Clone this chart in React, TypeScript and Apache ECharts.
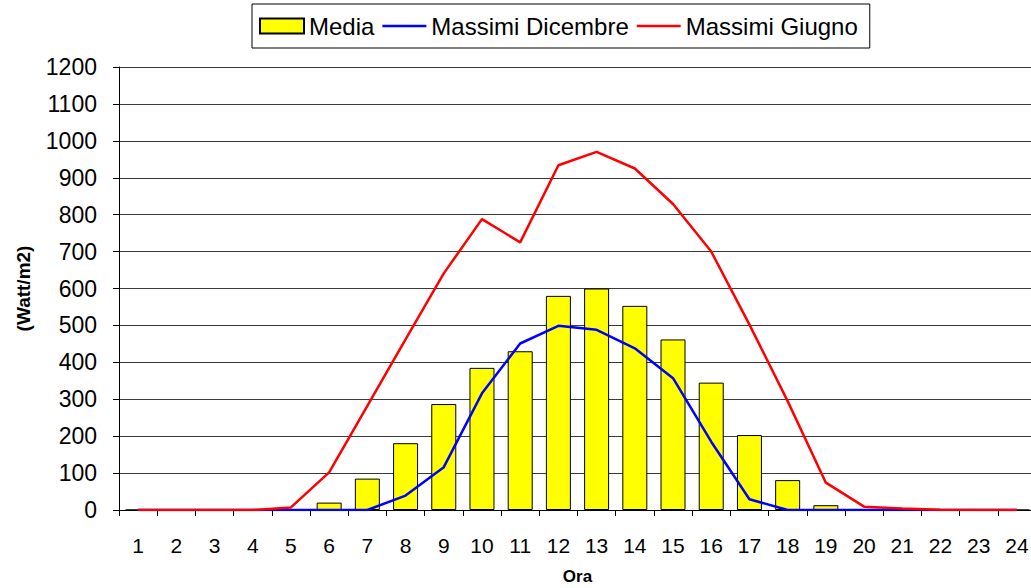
import React, { useEffect, useRef } from "react";
import * as echarts from "echarts";

const hours = ["1","2","3","4","5","6","7","8","9","10","11","12","13","14","15","16","17","18","19","20","21","22","23","24"];
const media = [0,0,0,0,0,20,85,181,287,385,430,580,600,553,462,345,203,81,13,0,0,0,0,0];
const dicembre = [0,0,0,0,0,0,0,39,116,316,451,499,488,438,357,185,29,0,0,0,0,0,0,0];
const giugno = [0,0,0,0,7,102,282,462,641,788,725,934,970,925,829,700,502,295,74,9,4,1,0,0];
const yTicks = { min: 0, max: 1200, interval: 100 };

const FONT = "'Liberation Sans', Arial, sans-serif";
const LINE_ICON = "path://M0,0L48,0L48,2.6L0,2.6Z";

export default function App() {
  const ref = useRef<HTMLDivElement>(null);
  useEffect(() => {
    if (!ref.current) return;
    const chart = echarts.init(ref.current, undefined, { renderer: "svg" });
    chart.setOption({
      animation: false,
      backgroundColor: "#ffffff",
      textStyle: { fontFamily: FONT },
      legend: {
        left: 252,
        top: 4,
        padding: [10, 12, 10, 7],
        borderColor: "#000",
        borderWidth: 1,
        itemWidth: 44,
        itemHeight: 15,
        itemGap: 8,
        textStyle: { fontFamily: FONT, fontSize: 24, color: "#000" },
        data: [
          { name: "Media", icon: "rect" },
          { name: "Massimi Dicembre", icon: LINE_ICON },
          { name: "Massimi Giugno", icon: LINE_ICON },
        ],
      },
      grid: { left: 119, right: -5, top: 67, bottom: 78, outerBoundsMode: "none", containLabel: false },
      xAxis: {
        type: "category",
        data: hours,
        boundaryGap: true,
        name: "Ora",
        nameLocation: "middle",
        nameGap: 58,
        nameTextStyle: { fontFamily: FONT, fontSize: 17, fontWeight: "bold", color: "#000" },
        axisLine: { lineStyle: { color: "#000", width: 1 } },
        axisTick: { show: true, length: 6, alignWithLabel: false, lineStyle: { color: "#000" } },
        axisLabel: { fontFamily: FONT, fontSize: 21, color: "#000", margin: 25, interval: 0 },
        splitLine: { show: false },
      },
      yAxis: {
        type: "value",
        min: yTicks.min,
        max: yTicks.max,
        interval: yTicks.interval,
        name: "(Watt/m2)",
        nameLocation: "middle",
        nameGap: 86,
        nameRotate: 90,
        nameTextStyle: { fontFamily: FONT, fontSize: 19, fontWeight: "bold", color: "#000" },
        axisLine: { show: true, lineStyle: { color: "#000", width: 1 } },
        axisTick: { show: true, length: 6, lineStyle: { color: "#000" } },
        axisLabel: {
          fontFamily: FONT,
          fontSize: 23,
          color: "#000",
          margin: 22,
          formatter: (v: number) => String(v),
        },
        splitLine: { show: true, lineStyle: { color: "#3a3a3a", width: 1 } },
      },
      series: [
        {
          name: "Media",
          type: "bar",
          data: media,
          barWidth: 25,
          itemStyle: { color: "#ffff00", borderColor: "#000", borderWidth: 1 },
          z: 2,
        },
        {
          name: "Massimi Dicembre",
          type: "line",
          data: dicembre,
          symbol: "none",
          lineStyle: { color: "#0000ff", width: 2.5 },
          itemStyle: { color: "#0000ff" },
          z: 3,
        },
        {
          name: "Massimi Giugno",
          type: "line",
          data: giugno,
          symbol: "none",
          lineStyle: { color: "#ff0000", width: 2.5 },
          itemStyle: { color: "#ff0000" },
          z: 4,
        },
      ],
    });
    return () => chart.dispose();
  }, []);
  return (
    <div
      ref={ref}
      style={{ position: "fixed", left: 0, top: 0, width: 1031, height: 588, background: "#fff" }}
    />
  );
}
